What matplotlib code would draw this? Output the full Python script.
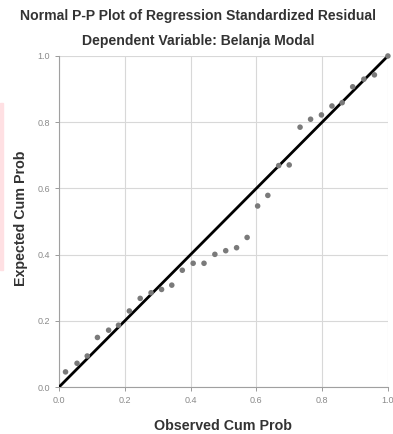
import numpy as np
import matplotlib.pyplot as plt
from matplotlib.patches import Rectangle

plt.rcParams['font.family'] = ['Liberation Sans', 'DejaVu Sans']

# observed vs expected cumulative probability
observed = [0.020, 0.055, 0.086, 0.117, 0.151, 0.181, 0.214, 0.247, 0.280, 0.312,
            0.343, 0.375, 0.408, 0.441, 0.474, 0.507, 0.540, 0.572, 0.604, 0.635,
            0.668, 0.700, 0.733, 0.765, 0.798, 0.830, 0.861, 0.893, 0.927, 0.959, 1.0]
expected = [0.046, 0.072, 0.094, 0.150, 0.172, 0.187, 0.230, 0.268, 0.285, 0.295,
            0.308, 0.353, 0.374, 0.374, 0.401, 0.412, 0.421, 0.452, 0.547, 0.579,
            0.669, 0.671, 0.785, 0.809, 0.822, 0.849, 0.859, 0.907, 0.930, 0.943, 1.0]
ticks = [0.0, 0.2, 0.4, 0.6, 0.8, 1.0]
xtick_labels = ["0.0", "0.2", "0.4", "0.6", "0.8", "1.0"]
ytick_labels = ["0.0", "0.2", "0.4", "0.6", "0.8", "1.0"]

fig = plt.figure(figsize=(3.93, 4.34), dpi=100)
ax = fig.add_axes([0.150, 0.108, 0.837, 0.763])

ax.plot([0, 1], [0, 1], color='black', lw=2, zorder=3)
ax.scatter(observed, expected, s=16, color='#7a7a7a', edgecolors='none', zorder=4, clip_on=False)

ax.set_xlim(0, 1)
ax.set_ylim(0, 1)
ax.set_xticks(ticks)
ax.set_yticks(ticks)
ax.set_xticklabels(xtick_labels)
ax.set_yticklabels(ytick_labels)
ax.tick_params(labelsize=6.5, colors='#8a8a8a', length=3, width=0.6)
ax.grid(True, color='#d8d8d8', lw=0.8)
ax.set_axisbelow(True)
for s in ['top', 'right']:
    ax.spines[s].set_visible(False)
for s in ['left', 'bottom']:
    ax.spines[s].set_color('#a0a0a0')
    ax.spines[s].set_linewidth(0.8)

ax.set_xlabel("Observed Cum Prob", fontsize=10.3, fontweight='bold', color='#333333', labelpad=10)
ax.set_ylabel("Expected Cum Prob", fontsize=10.3, fontweight='bold', color='#333333')
ax.yaxis.set_label_coords(-0.094, 0.51)

fig.text(0.504, 0.964, "Normal P-P Plot of Regression Standardized Residual",
         ha='center', va='center', fontsize=10.1, fontweight='bold', color='#333333')
fig.text(0.504, 0.905, "Dependent Variable: Belanja Modal",
         ha='center', va='center', fontsize=10.1, fontweight='bold', color='#333333')

# faint pink strip at the left edge of the reference image
fig.patches.append(Rectangle((0, 0.378), 0.008, 0.385, transform=fig.transFigure,
                             color='#ffe0e3', zorder=0))

fig.savefig("out.png", dpi=100)
